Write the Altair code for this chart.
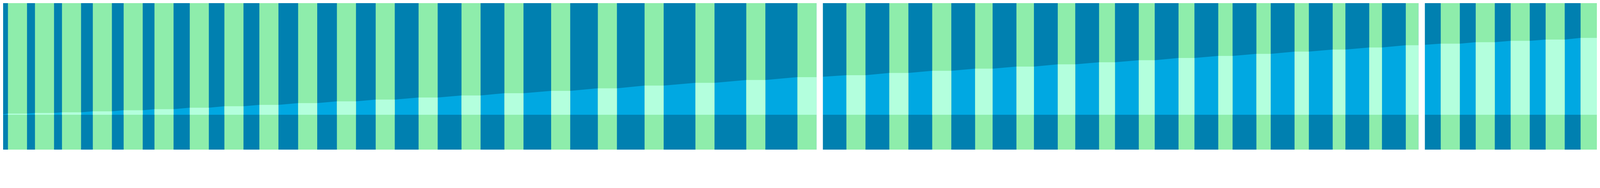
import altair as alt
import pandas as pd

# --- data -------------------------------------------------------------
# green columns: start position and width along the continuous x axis
bar_start = [25, 110, 195, 292, 389, 486, 597, 706, 816, 938, 1060, 1182, 1317, 1452,
             1587, 1734, 1881, 2028, 2188, 2348, 2509,
             2663, 2798, 2933, 3068, 3198, 3328, 3458, 3583, 3708, 3833, 3953, 4073,
             4193, 4308, 4423,
             4533, 4643, 4753, 4863, 4973]
bar_width = [60] * 21 + [60, 60, 60, 55, 55, 55, 50, 50, 50, 45, 45, 45, 40, 40, 40] + [60] * 5
# band height reached at each column
bar_value = [3.5, 5.5, 7.5, 10.5, 14, 17.5, 22, 26.5, 31, 36.5, 42, 47.5, 54, 60.5,
             67.5, 75, 83, 91.5, 100, 109, 118,
             124, 131, 138, 144.5, 151, 158, 164.5, 171, 178, 184.5, 191, 198,
             204.5, 211, 218,
             223, 227.5, 232, 236, 241]
# white section breaks
divider_start = [2569, 4463]
divider_end = [2589, 4483]

X_DOMAIN = [9.8, 5024.2]
Y_DOMAIN = [-109.5, 350.2]

DARK_BLUE = "#0080b0"
BRIGHT_BLUE = "#00a8e2"
GREEN = "#8eedab"
MINT = "#b3ffdd"

bars = pd.DataFrame({
    "start": bar_start,
    "end": [s + w for s, w in zip(bar_start, bar_width)],
    "value": bar_value,
    "lo": Y_DOMAIN[0],
    "hi": Y_DOMAIN[1],
})

area_t = [0]
area_v = [0]
for s, e, v in zip(bars["start"], bars["end"], bars["value"]):
    area_t += [s, e]
    area_v += [v, v]
area = pd.DataFrame({"t": area_t, "v": area_v})

dividers = pd.DataFrame({"start": divider_start, "end": divider_end,
                         "lo": Y_DOMAIN[0], "hi": Y_DOMAIN[1]})

xs = alt.Scale(domain=X_DOMAIN, nice=False, zero=False)
ys = alt.Scale(domain=Y_DOMAIN, nice=False, zero=False)

band = alt.Chart(area).mark_area(color=BRIGHT_BLUE, interpolate="linear", clip=True).encode(
    x=alt.X("t:Q", scale=xs, axis=None),
    y=alt.Y("v:Q", scale=ys, axis=None, stack=None),
    y2=alt.datum(0),
)

columns = alt.Chart(bars).mark_rect(color=GREEN, clip=True).encode(
    x=alt.X("start:Q", scale=xs, axis=None),
    x2="end:Q",
    y=alt.Y("lo:Q", scale=ys, axis=None),
    y2="hi:Q",
)

inner = alt.Chart(bars).mark_rect(color=MINT, clip=True).encode(
    x=alt.X("start:Q", scale=xs, axis=None),
    x2="end:Q",
    y=alt.Y("value:Q", scale=ys, axis=None),
    y2=alt.datum(0),
)

gaps = alt.Chart(dividers).mark_rect(color="white", clip=True).encode(
    x=alt.X("start:Q", scale=xs, axis=None),
    x2="end:Q",
    y=alt.Y("lo:Q", scale=ys, axis=None),
    y2="hi:Q",
)

chart = alt.layer(band, columns, inner, gaps).properties(
    width="container", height=374, padding=0,
    autosize=alt.AutoSizeParams(type="fit", contains="padding"),
).configure(background=DARK_BLUE).configure_view(strokeWidth=0, fill=DARK_BLUE)

chart.save("out.html", embed_options={"renderer": "svg", "actions": False})
